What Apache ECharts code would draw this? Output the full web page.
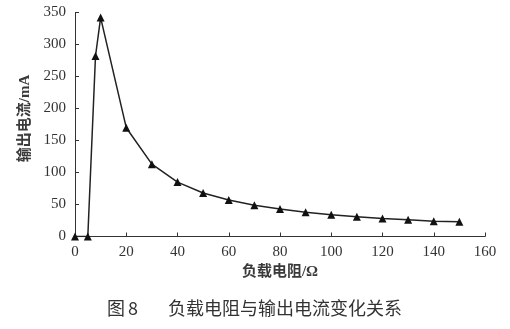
<!DOCTYPE html>
<html><head><meta charset="utf-8">
<script src="https://cdn.jsdelivr.net/npm/echarts@6/dist/echarts.min.js"></script>
<style>html,body{margin:0;padding:0;background:#fff}#c{width:510px;height:329px}</style>
</head><body><div id="c"></div>
<script>
const resistance = [0, 5, 8, 10, 20, 30, 40, 50, 60, 70, 80, 90, 100, 110, 120, 130, 140, 150];
const current = [0, 0, 282, 342, 170, 113, 85, 68, 57, 49, 43, 38, 34, 31, 28, 26, 24, 23];
const xName = '负载电阻/Ω';
const yName = '输出电流/mA';
const figWord = '图';
const figNum = '8';
const caption = '负载电阻与输出电流变化关系';

const chart = echarts.init(document.getElementById('c'), null, {renderer: 'canvas'});
const serif = '"Liberation Serif", "DejaVu Serif", serif';
const cjk = '"Liberation Serif", "Noto Sans CJK SC", serif';
const capStyle = {fontFamily: '"Noto Sans CJK SC", sans-serif', fontSize: 18, fontWeight: 'normal', color: '#333'};
chart.setOption({
  animation: false,
  backgroundColor: '#fff',
  grid: {left: 75, right: 25, top: 12.5, bottom: 92.5},
  title: [
    {text: figWord, left: 102, top: 294, textStyle: capStyle},
    {text: figNum, left: 123, top: 294, textStyle: capStyle},
    {text: caption, left: 163, top: 294, textStyle: capStyle}
  ],
  xAxis: {
    type: 'value', min: 0, max: 160, interval: 20,
    name: xName, nameLocation: 'middle', nameGap: 26,
    nameTextStyle: {fontFamily: cjk, fontSize: 15, color: '#3a3a3a', fontWeight: 'bold'},
    axisLine: {lineStyle: {color: '#333', width: 1}},
    axisTick: {inside: true, length: 4, lineStyle: {color: '#333'}},
    axisLabel: {fontFamily: serif, fontSize: 15, color: '#333', margin: 8},
    splitLine: {show: false}
  },
  yAxis: {
    type: 'value', min: 0, max: 350, interval: 50,
    name: yName, nameLocation: 'middle', nameGap: 40, nameRotate: 90,
    nameTextStyle: {fontFamily: cjk, fontSize: 15, color: '#3a3a3a', fontWeight: 'bold', padding: [0, 0, 0, 12]},
    axisLine: {show: true, lineStyle: {color: '#333', width: 1}},
    axisTick: {show: true, inside: true, length: 4, lineStyle: {color: '#333'}},
    axisLabel: {fontFamily: serif, fontSize: 15, color: '#333', margin: 9},
    splitLine: {show: false}
  },
  series: [{
    type: 'line',
    data: resistance.map((x, i) => [x, current[i]]),
    symbol: 'triangle', symbolSize: 8,
    itemStyle: {color: '#111'},
    lineStyle: {color: '#222', width: 1.5}
  }]
});
</script></body></html>
